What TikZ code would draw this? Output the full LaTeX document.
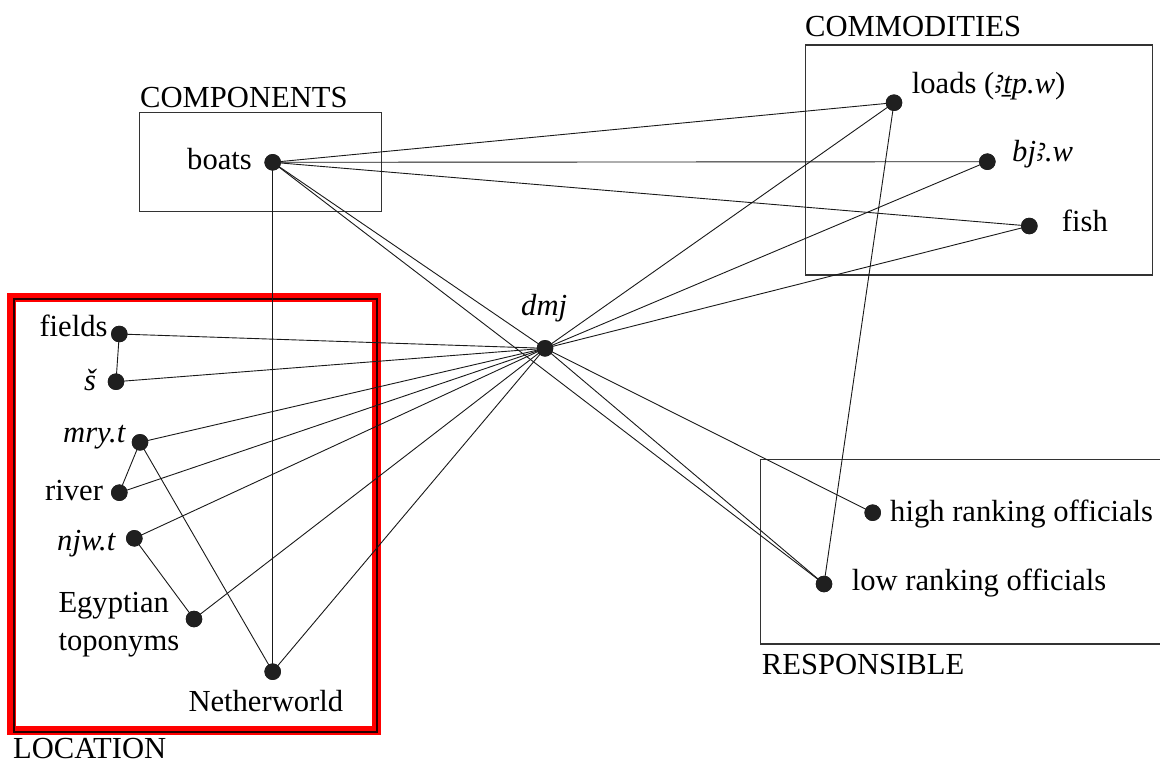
\documentclass[tikz,border=0pt]{standalone}
\usepackage{fontspec}
\setmainfont{Liberation Serif}
\newfontfamily\alephfont{Noto Sans}
\newcommand{\egaleph}{{\alephfont ꜣ}}
\begin{document}
\begin{tikzpicture}[x=1pt,y=-1pt,
  lbl/.style={font=\fontsize{30.6}{36}\selectfont, inner sep=0pt, anchor=base west},
  dot/.style={circle, fill=black!88, inner sep=0pt, minimum size=16.5pt},
  link/.style={line width=0.9pt, draw=black!90},
  frame/.style={line width=1.3pt, draw=black!80}]
\useasboundingbox (0,0) rectangle (1160,764);
% frames
\draw[frame] (139.5,112.3) rectangle (381.5,211.7);
\draw[frame] (805.5,45) rectangle (1152.5,275);
\draw[frame] (760.7,459.3) rectangle (1170,644);
\draw[red, line width=9pt] (11.5,297) rectangle (376,730.5);
\draw[black!85!red, line width=1.6pt] (13.8,298.8) rectangle (377,732);
% dots
\node[dot] (boats) at (272.7,162.3) {};
\node[dot] (loads) at (894,102.7) {};
\node[dot] (bjw) at (987.3,161.7) {};
\node[dot] (fish) at (1029.3,226) {};
\node[dot] (dmj) at (545,348.3) {};
\node[dot] (fields) at (119.3,334) {};
\node[dot] (sh) at (116,381.7) {};
\node[dot] (mryt) at (140,442.3) {};
\node[dot] (river) at (119.3,492.7) {};
\node[dot] (njwt) at (134.3,538.3) {};
\node[dot] (topo) at (194,619) {};
\node[dot] (nether) at (272.7,671.7) {};
\node[dot] (high) at (872.7,512.7) {};
\node[dot] (low) at (824,584) {};
% links
\foreach \a/\b in {boats/loads, boats/bjw, boats/fish, boats/nether, boats/dmj, boats/low,
  dmj/loads, dmj/bjw, dmj/fish, dmj/high, dmj/low,
  dmj/fields, dmj/sh, dmj/mryt, dmj/river, dmj/njwt, dmj/topo, dmj/nether,
  loads/low, fields/sh, mryt/river, mryt/nether, njwt/topo}
  \draw[link] (\a.center) -- (\b.center);
% redraw dots on top
\foreach \n in {boats,loads,bjw,fish,dmj,fields,sh,mryt,river,njwt,topo,nether,high,low}
  \fill[black!88] (\n.center) circle (8.25pt);
% labels
\node[lbl] (tcomp) at (140,107) {COMPONENTS};
\node[lbl] (tcomm) at (805,36) {COMMODITIES};
\node[lbl] (tresp) at (761.7,674) {RESPONSIBLE};
\node[lbl] (tloc) at (13,758.5) {LOCATION};
\node[lbl] (tboats) at (187,169.5) {boats};
\node[lbl] (tloads) at (911.7,93.3) {loads (\textit{\egaleph ṯp.w})};
\node[lbl] (tbjw) at (1012,161) {\textit{bj\egaleph.w}};
\node[lbl] (tfish) at (1061.7,231.7) {fish};
\node[lbl] (tdmj) at (521,315) {\textit{dmj}};
\node[lbl] (tfields) at (39.3,336.7) {fields};
\node[lbl] (tsh) at (84,390) {\textit{š}};
\node[lbl] (tmryt) at (63,442) {\textit{mry.t}};
\node[lbl] (triver) at (45,500) {river};
\node[lbl] (tnjwt) at (57,550) {\textit{njw.t}};
\node[lbl] (tegy) at (58.3,612.7) {Egyptian};
\node[lbl] (ttopo) at (58.3,650) {toponyms};
\node[lbl] (tnether) at (188.3,711.7) {Netherworld};
\node[lbl] (thigh) at (890,521.7) {high ranking officials};
\node[lbl] (tlow) at (851.7,590) {low ranking officials};
\end{tikzpicture}
\end{document}
